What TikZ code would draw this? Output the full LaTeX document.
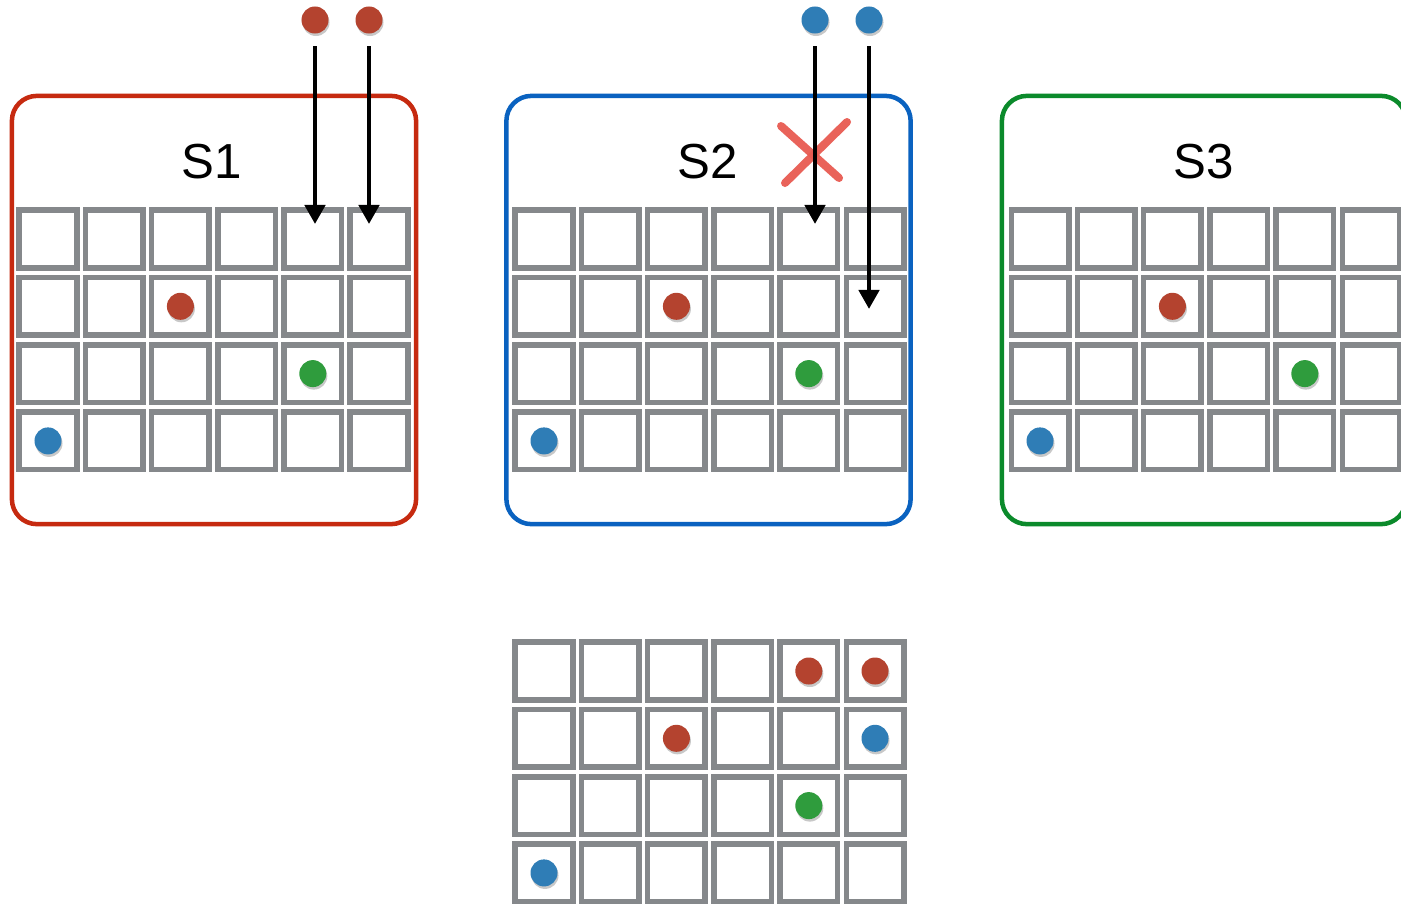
\documentclass[tikz,border=0pt]{standalone}
\usepackage{fontspec}
\setmainfont{Liberation Sans}
\usepackage{tikz}
\usetikzlibrary{arrows.meta,shadows}

\definecolor{boxred}{HTML}{C62A10}
\definecolor{boxblue}{HTML}{0A62C0}
\definecolor{boxgreen}{HTML}{0B8A2B}
\definecolor{dotred}{HTML}{B4432F}
\definecolor{dotblue}{HTML}{2F7DB6}
\definecolor{dotgreen}{HTML}{2F9C3D}
\definecolor{cellgray}{HTML}{85888B}
\definecolor{crossred}{HTML}{E85B52}

\begin{document}
\begin{tikzpicture}[x=0.01cm, y=-0.01cm, >={Triangle[length=0.19cm,width=0.2cm]},
		cell/.style={draw=cellgray, line width=0.055cm, fill=white, minimum width=0.575cm, minimum height=0.575cm, inner sep=0pt},
		dot/.style={circle, inner sep=0pt, minimum size=0.27cm, drop shadow={shadow xshift=0.01cm, shadow yshift=-0.025cm, opacity=0.3, fill=black!70}},
		sbox/.style={rounded corners=0.25cm, line width=0.045cm, minimum width=4.04cm, minimum height=4.28cm, inner sep=0pt},
		arrowline/.style={->, line width=0.045cm, shorten <=0.12cm},
		cross/.style={crossred, line width=0.08cm, line cap=round, opacity=0.95},
		font=\fontsize{14}{17}\selectfont]
		\clip (0,0) rectangle (1401,906);
		\fill[white] (0,0) rectangle (1401,906);
		% the three sites
		\node[sbox, draw=boxred] (s1) at (214,310) {};
		\node[sbox, draw=boxblue] (s2) at (708.5,310) {};
		\node[sbox, draw=boxgreen] (s3) at (1204,310) {};
		\node (s1lab) at (212,162) {S1};
		\node (s2lab) at (708,162) {S2};
		\node (s3lab) at (1204,162) {S3};
		% grids
		\foreach \s/\dx in {1/0,2/496,3/992}{
			\foreach \r in {1,...,4}{
				\foreach \c in {1,...,6}{
					\node[cell] (s\s-\r-\c) at ({48+\dx+66.2*(\c-1)},{239+67.3*(\r-1)}) {};
				}
			}
			\node[dot, fill=dotred] (s\s-red) at (s\s-2-3) {};
			\node[dot, fill=dotgreen] (s\s-green) at (s\s-3-5) {};
			\node[dot, fill=dotblue] (s\s-blue) at (s\s-4-1) {};
		}
		% merged grid
		\foreach \r in {1,...,4}{
			\foreach \c in {1,...,6}{
				\node[cell] (m-\r-\c) at ({544+66.2*(\c-1)},{671+67.3*(\r-1)}) {};
			}
		}
		\node[dot, fill=dotred] (m-red1) at (m-1-5) {};
		\node[dot, fill=dotred] (m-red2) at (m-1-6) {};
		\node[dot, fill=dotred] (m-red3) at (m-2-3) {};
		\node[dot, fill=dotblue] (m-blue1) at (m-2-6) {};
		\node[dot, fill=dotgreen] (m-green) at (m-3-5) {};
		\node[dot, fill=dotblue] (m-blue2) at (m-4-1) {};
		% incoming writes
		\node[dot, fill=dotred] (in1a) at (315,20) {};
		\node[dot, fill=dotred] (in1b) at (369,20) {};
		\node[dot, fill=dotblue] (in2a) at (815,20) {};
		\node[dot, fill=dotblue] (in2b) at (869,20) {};
		\coordinate (t1a) at (315,224);
		\coordinate (t1b) at (369,224);
		\coordinate (t2a) at (815,224);
		\coordinate (t2b) at (869,309);
		% rejected
		\draw[cross] (781,126) -- (839,178);
		\draw[cross] (847,122) -- (785,183);
		\draw[arrowline] (in1a) -- (t1a);
		\draw[arrowline] (in1b) -- (t1b);
		\draw[arrowline] (in2a) -- (t2a);
		\draw[arrowline] (in2b) -- (t2b);
	\end{tikzpicture}
\end{document}
